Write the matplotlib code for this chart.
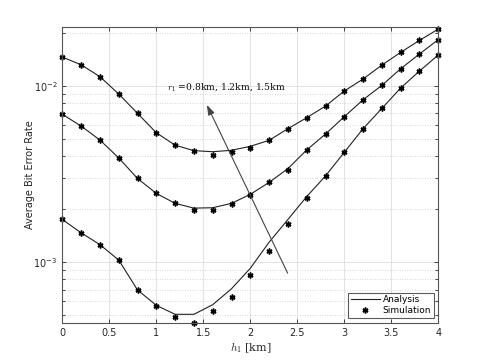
import numpy as np
import matplotlib
matplotlib.use("Agg")
import matplotlib.pyplot as plt
from matplotlib.ticker import LogLocator, NullFormatter, FixedLocator
from matplotlib.lines import Line2D

h1 = [0, 0.2, 0.4, 0.6, 0.8, 1.0, 1.2, 1.4, 1.6, 1.8, 2.0, 2.2, 2.4, 2.6, 2.8, 3.0, 3.2, 3.4, 3.6, 3.8, 4.0]

# r1 = 1.5 km (top)
sim_15 = [0.0146, 0.0132, 0.0113, 0.00901, 0.0070, 0.00543, 0.00464, 0.00429, 0.00404, 0.00421,
          0.00443, 0.00492, 0.00573, 0.00661, 0.00770, 0.00937, 0.01096, 0.01315, 0.01553, 0.01815, 0.02105]
ana_15 = [0.0146, 0.0132, 0.0113, 0.00901, 0.0070, 0.00543, 0.00462, 0.00430, 0.00424, 0.00432,
          0.00455, 0.00492, 0.00573, 0.00661, 0.00770, 0.00937, 0.01096, 0.01315, 0.01553, 0.01815, 0.02105]
# r1 = 1.2 km (middle)
sim_12 = [0.00691, 0.00593, 0.00494, 0.00391, 0.00299, 0.00246, 0.00216, 0.00199, 0.00197, 0.00213,
          0.00240, 0.00284, 0.00336, 0.00434, 0.00534, 0.00670, 0.00836, 0.01009, 0.01254, 0.01520, 0.01833]
ana_12 = [0.00691, 0.00593, 0.00494, 0.00391, 0.00299, 0.00246, 0.00216, 0.00203, 0.00204, 0.00216,
          0.00243, 0.00284, 0.00340, 0.00434, 0.00534, 0.00670, 0.00836, 0.01009, 0.01254, 0.01520, 0.01833]
# r1 = 0.8 km (bottom)
sim_08 = [0.00175, 0.00147, 0.00126, 0.00103, 0.000697, 0.000565, 0.000487, 0.000454, 0.000531, 0.000638,
          0.000851, 0.001159, 0.001656, 0.00231, 0.00309, 0.00421, 0.00573, 0.00747, 0.00975, 0.01216, 0.01500]
ana_08 = [0.00175, 0.00147, 0.00126, 0.00103, 0.000697, 0.000570, 0.000507, 0.000507, 0.000575, 0.000708,
          0.000925, 0.00130, 0.00175, 0.00236, 0.00309, 0.00421, 0.00573, 0.00747, 0.00975, 0.01216, 0.01500]

xticks = [0, 0.5, 1, 1.5, 2, 2.5, 3, 3.5, 4]
annot_text = r'$r_1$ =0.8km, 1.2km, 1.5km'
legend_labels = ['Analysis', 'Simulation']

plt.rcParams['mathtext.fontset'] = 'cm'
grey = '#262626'
mk = dict(ls='none', marker=(6, 2, 0), ms=4.2, mew=1.1, color='black')

fig = plt.figure(figsize=(4.85, 3.63), dpi=100)
ax = fig.add_axes([0.1285, 0.111, 0.7752, 0.8154])

for ana in (ana_15, ana_12, ana_08):
    ax.plot(h1, ana, color='#222222', lw=0.8)
for sim in (sim_15, sim_12, sim_08):
    ax.plot(h1, sim, clip_on=False, **mk)

ax.set_yscale('log')
ax.set_xlim(0, 4)
ax.set_ylim(4.544e-4, 0.0217)
ax.xaxis.set_major_locator(FixedLocator(xticks))
ax.set_xticklabels([('%g' % t) for t in xticks])
ax.yaxis.set_major_locator(LogLocator(base=10, numticks=10))
ax.yaxis.set_minor_locator(LogLocator(base=10, subs=np.arange(2, 10), numticks=20))
ax.yaxis.set_minor_formatter(NullFormatter())

ax.grid(True, which='major', color='#dddddd', lw=0.6, ls='-')
ax.grid(True, which='minor', axis='y', color='#cccccc', lw=0.6, ls=(0, (1, 2)))
ax.set_axisbelow(True)

ax.tick_params(which='both', direction='in', top=True, right=True, colors=grey, labelsize=7, width=0.6)
ax.tick_params(which='major', length=3)
ax.tick_params(which='minor', length=2)
for s in ax.spines.values():
    s.set_color('#555555')
    s.set_linewidth(0.8)

ax.set_ylabel('Average Bit Error Rate', fontsize=7, color=grey)
ax.yaxis.set_label_coords(-0.072, 0.5)
ax.set_xlabel(r'$h_1$ [km]', fontsize=8, family='serif', color=grey, labelpad=2)

ax.annotate('', xy=(1.525, 0.00808), xytext=(2.41, 0.00084),
            arrowprops=dict(arrowstyle='-|>,head_length=0.6,head_width=0.2', color='#444444', lw=0.8,
                            mutation_scale=10))
ax.text(1.11, 0.0098, annot_text, fontsize=6.7, family='serif', va='center', ha='left', color='#111111')

handles = [Line2D([], [], color='#222222', lw=0.8), Line2D([], [], **mk)]
leg = ax.legend(handles, legend_labels, loc='lower right', fontsize=6.5, frameon=True, fancybox=False,
                borderaxespad=0.5, handlelength=3.2, borderpad=0.3, labelspacing=0.25, handletextpad=0.3)
leg.get_frame().set_edgecolor('#333333')
leg.get_frame().set_linewidth(0.8)

fig.savefig('out.png', dpi=100)
